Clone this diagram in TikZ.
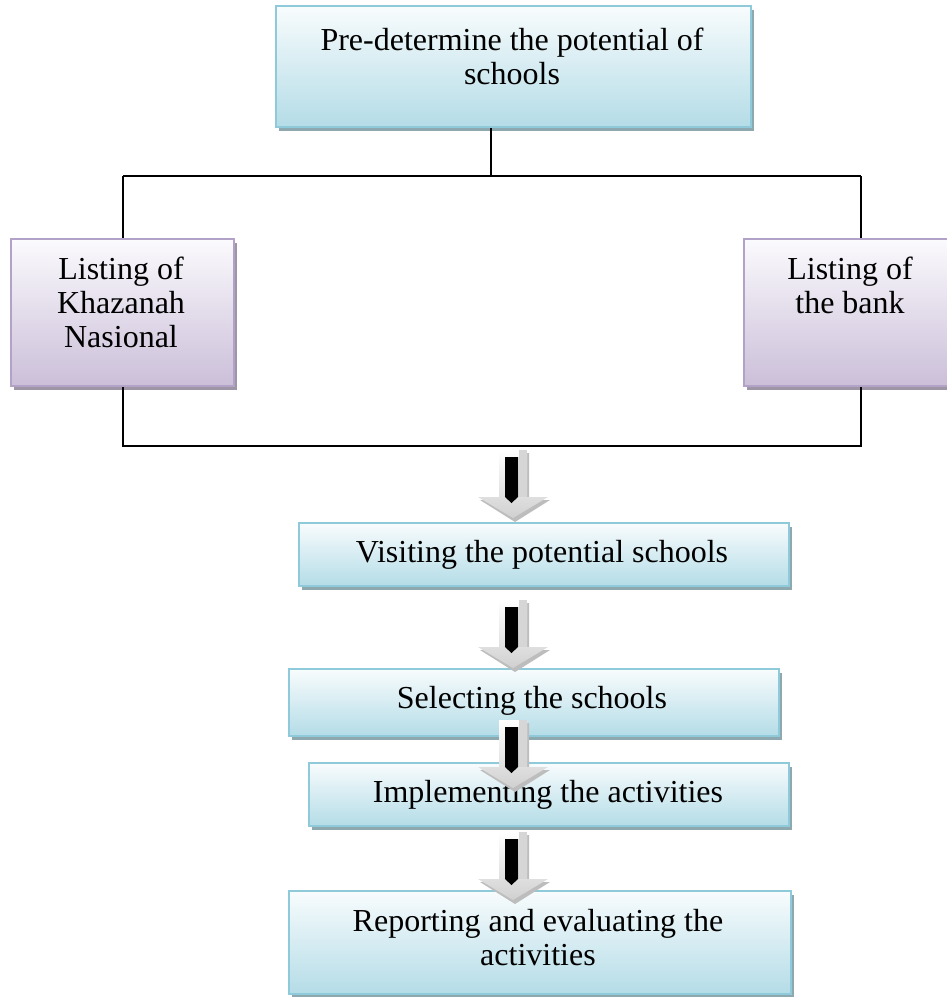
\documentclass[tikz,border=0pt]{standalone}
\usepackage{fontspec}
\setmainfont{Liberation Serif}
\usetikzlibrary{calc}

\definecolor{blueedge}{HTML}{8FCADB}
\definecolor{bluetop}{HTML}{F8FCFD}
\definecolor{bluebot}{HTML}{B4DCE7}
\definecolor{blueshade}{HTML}{8EA8AF}
\definecolor{purpedge}{HTML}{B3A2C7}
\definecolor{purptop}{HTML}{FBFAFD}
\definecolor{purpbot}{HTML}{CBBFD9}
\definecolor{purpshade}{HTML}{9E96A7}
\definecolor{arrowshade}{HTML}{BDBDBD}
\definecolor{arrowstripe}{HTML}{D6D6D6}
\definecolor{arrowlow}{HTML}{D0D0D0}

\newcommand{\boxfont}{\fontsize{32}{34}\selectfont\spaceskip=8pt\xspaceskip=8pt\relax}

\begin{document}
\begin{tikzpicture}[x=1pt,y=-1pt,
  boxbase/.style={rectangle, line width=2pt, inner sep=0pt, anchor=north west},
  bluebox/.style={boxbase, draw=blueedge, top color=bluetop, bottom color=bluebot,
    preaction={fill=blueshade, transform canvas={shift={(3pt,-4pt)}}}},
  purplebox/.style={boxbase, draw=purpedge, top color=purptop, bottom color=purpbot,
    preaction={fill=purpshade, transform canvas={shift={(3pt,-4pt)}}}},
  lbl/.style={font=\boxfont, align=flush center, anchor=base,
    inner sep=0pt, text width=#1},
  lbl/.default=470pt,
  link/.style={line width=2pt, black},
  flowarrow/.pic={
    % grey drop shadow of the block arrow
    \fill[arrowshade] (-12,3) -- (16,3) -- (16,50) -- (37,50) -- (2,72)
      -- (-33,50) -- (-12,50) -- cycle;
    % light block arrow, whitish at the top and grey towards the tip
    \shade[top color=white, bottom color=arrowlow] (-14,0) -- (14,0) -- (14,47)
      -- (35,47) -- (0,68) -- (-35,47) -- (-14,47) -- cycle;
    \fill[arrowstripe] (6,0) rectangle (14,47);
    % black inner bar
    \fill[black] (-8,7) -- (5,7) -- (5,47) -- (-1.5,53) -- (-8,47) -- cycle;
  }
]
\useasboundingbox (0,0) rectangle (947,997);

% boxes
\node[bluebox, minimum width=475pt, minimum height=121pt] (top) at (275,5) {};
\node[purplebox, minimum width=223pt, minimum height=147pt] (kn) at (10,238) {};
\node[purplebox, minimum width=214pt, minimum height=147pt] (bank) at (743,238) {};
\node[bluebox, minimum width=490pt, minimum height=63pt] (visit) at (298,522) {};
\node[bluebox, minimum width=490pt, minimum height=67pt] (select) at (288,668) {};
\node[bluebox, minimum width=480pt, minimum height=63pt] (impl) at (308,762) {};
\node[bluebox, minimum width=502pt, minimum height=103pt] (report) at (288,890) {};

% box texts
\node[lbl] (ttop) at (512,50) {Pre-determine the potential of\\schools};
\node[lbl=215pt] (tkn) at (121,279) {Listing of\\Khazanah\\Nasional};
\node[lbl=205pt] (tbank) at (850,279) {Listing of\\the bank};
\node[lbl] (tvisit) at (542,562) {Visiting the potential schools};
\node[lbl] (tselect) at (532,708) {Selecting the schools};
\node[lbl] (timpl) at (548,802) {Implementing the activities};
\node[lbl] (treport) at (538,931) {Reporting and evaluating the\\activities};

% branching connectors
\coordinate (j1) at (491,176);
\coordinate (jl) at (123,176);
\coordinate (jr) at (861,176);
\coordinate (bl) at (123,446);
\coordinate (br) at (861,446);
\draw[link] (top.south -| j1) -- (j1);
\draw[link] (jl) -- (jr);
\draw[link] (jl) -- (jl |- kn.north);
\draw[link] (jr) -- (jr |- bank.north);
\draw[link] (bl |- kn.south) -- (bl) -- (br) -- (br |- bank.south);

% block arrows between the steps
\pic at (513,450) {flowarrow};
\pic at (513,600) {flowarrow};
\pic at (513,720) {flowarrow};
\pic at (513,832) {flowarrow};
\end{tikzpicture}
\end{document}
